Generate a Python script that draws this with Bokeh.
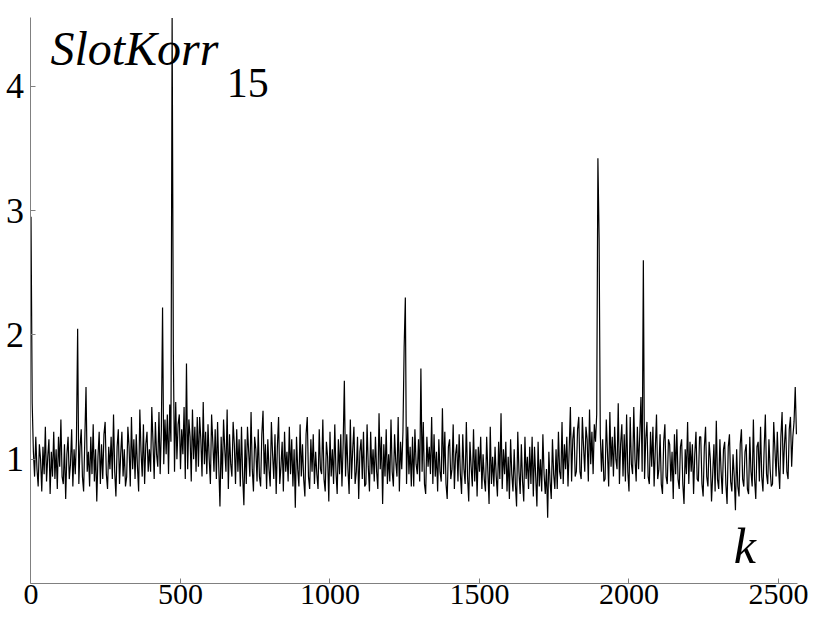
import numpy as np
from bokeh.plotting import figure
from bokeh.models import Label, FixedTicker, Range1d
from bokeh.embed import file_html
from bokeh.resources import INLINE

# SlotKorr_15 values, one every 4 samples of k
slotkorr = [
    2.95, 1.45, 1.06, 0.86, 1.18, 0.92, 0.78, 1.12, 1.00, 0.74,
    1.10, 0.88, 1.26, 0.82, 1.02, 1.16, 0.72, 1.06, 0.86, 1.22,
    0.84, 1.08, 0.76, 1.18, 0.94, 1.32, 0.86, 0.80, 1.12, 0.68,
    1.04, 1.18, 0.84, 0.96, 1.24, 0.78, 1.08, 0.88, 1.16, 2.05,
    0.80, 1.10, 1.24, 0.86, 0.74, 1.16, 1.58, 0.90, 1.06, 0.78,
    1.18, 0.88, 1.28, 0.82, 1.08, 0.66, 1.02, 1.22, 0.80, 1.12,
    0.84, 1.20, 1.30, 0.88, 0.76, 1.10, 0.92, 1.18, 0.84, 1.36,
    0.90, 0.70, 1.10, 1.24, 0.80, 1.04, 1.22, 0.86, 1.08, 0.78,
    0.86, 1.26, 1.10, 0.78, 1.34, 0.92, 1.16, 0.84, 1.20, 0.94,
    0.74, 1.40, 1.06, 0.86, 1.28, 0.80, 1.12, 1.22, 0.90, 1.08,
    0.90, 1.42, 1.14, 0.84, 1.30, 1.04, 0.94, 1.38, 0.88, 1.24,
    2.22, 0.96, 1.32, 1.04, 1.36, 0.88, 1.44, 1.14, 4.55, 1.88,
    0.90, 1.46, 1.00, 1.28, 1.36, 0.92, 1.24, 1.04, 1.42, 0.84,
    1.77, 0.92, 1.32, 1.18, 0.82, 1.40, 1.00, 1.26, 0.90, 1.34,
    0.94, 1.34, 1.16, 0.86, 1.46, 0.96, 1.22, 0.88, 1.28, 1.00,
    0.80, 1.36, 1.14, 0.90, 1.24, 0.84, 1.30, 0.94, 0.62, 1.18,
    0.84, 1.32, 1.08, 0.90, 1.40, 0.76, 1.20, 0.96, 0.86, 1.30,
    1.12, 0.80, 1.24, 0.90, 1.16, 0.78, 1.26, 0.86, 0.63, 1.16,
    0.80, 1.26, 1.06, 0.86, 1.38, 0.92, 0.74, 1.18, 1.08, 0.82,
    1.24, 0.86, 0.78, 1.20, 1.39, 0.88, 1.12, 0.76, 1.16, 0.92,
    0.78, 1.30, 1.04, 0.84, 1.20, 0.72, 1.10, 1.34, 0.80, 0.94,
    1.14, 0.74, 1.22, 0.90, 1.06, 0.82, 1.26, 0.88, 1.16, 0.78,
    1.08, 0.61, 1.18, 0.92, 0.78, 1.28, 0.86, 1.12, 0.84, 0.70,
    1.20, 1.34, 0.86, 0.76, 1.16, 0.90, 1.20, 0.80, 1.06, 0.88,
    0.76, 1.24, 0.92, 0.88, 1.32, 0.84, 0.74, 1.14, 1.02, 0.66,
    1.22, 0.86, 1.08, 0.80, 1.28, 0.90, 0.72, 1.16, 0.88, 1.20,
    0.78, 1.12, 1.63, 0.86, 1.20, 0.92, 0.72, 1.32, 0.84, 1.08,
    1.26, 0.80, 0.90, 1.18, 0.68, 1.06, 1.16, 0.84, 1.22, 0.78,
    0.80, 1.28, 0.94, 0.74, 1.22, 0.88, 1.08, 0.82, 1.18, 0.90,
    0.76, 1.37, 0.92, 1.18, 0.64, 1.12, 0.86, 1.24, 0.80, 1.04,
    0.82, 1.32, 0.90, 0.78, 1.20, 0.98, 0.86, 1.34, 0.74, 1.14,
    0.92, 1.22, 1.90, 2.30, 0.80, 1.26, 0.88, 1.10, 0.78, 1.18,
    0.78, 1.24, 0.96, 0.88, 1.16, 0.82, 1.73, 0.90, 1.30, 0.80,
    0.72, 1.18, 0.94, 1.10, 0.88, 1.34, 0.80, 1.20, 0.86, 1.06,
    0.74, 1.16, 0.90, 0.82, 1.41, 0.88, 1.22, 0.80, 0.68, 1.10,
    1.16, 0.84, 0.92, 1.28, 0.76, 1.04, 1.12, 0.82, 1.20, 0.88,
    0.72, 1.20, 0.92, 0.80, 1.30, 0.86, 0.66, 1.14, 0.94, 0.78,
    1.24, 0.82, 1.08, 0.70, 1.10, 0.90, 1.18, 0.76, 1.04, 0.84,
    0.74, 1.18, 0.90, 0.64, 1.26, 0.80, 1.02, 0.78, 1.10, 0.86,
    0.70, 1.14, 0.84, 1.37, 0.76, 1.08, 0.88, 1.14, 0.74, 1.02,
    0.68, 1.16, 0.88, 0.74, 1.08, 0.80, 0.62, 1.22, 0.90, 0.72,
    1.12, 0.82, 0.66, 1.18, 0.84, 1.02, 0.76, 1.10, 0.80, 1.18,
    0.70, 1.10, 0.86, 0.62, 1.14, 0.78, 1.00, 0.74, 1.20, 0.88,
    0.72, 0.92, 0.53, 1.06, 0.82, 0.68, 1.16, 0.88, 0.76, 1.08,
    0.76, 1.22, 0.90, 0.84, 1.30, 0.80, 1.12, 0.92, 1.18, 0.78,
    1.08, 1.42, 0.82, 1.16, 1.26, 0.86, 0.90, 1.24, 1.34, 0.90,
    0.84, 1.34, 1.10, 0.90, 1.26, 1.16, 0.82, 1.40, 0.96, 1.22,
    0.88, 1.28, 1.14, 1.36, 3.42, 2.78, 1.20, 0.90, 1.16, 0.82,
    0.84, 1.32, 1.06, 0.78, 1.38, 0.94, 1.18, 0.86, 1.26, 1.00,
    0.92, 1.45, 0.80, 1.12, 1.28, 0.86, 1.20, 0.82, 1.36, 0.90,
    0.74, 1.34, 0.96, 0.88, 1.42, 1.00, 0.82, 1.26, 0.92, 1.20,
    1.50, 0.90, 2.60, 0.84, 1.16, 1.30, 0.86, 0.80, 1.22, 0.94,
    1.26, 0.78, 1.08, 1.36, 0.84, 0.92, 1.20, 0.80, 0.72, 1.14,
    1.28, 0.86, 0.80, 1.16, 1.12, 0.82, 1.06, 0.68, 1.20, 0.88,
    1.24, 0.84, 0.76, 1.10, 1.16, 0.80, 0.64, 1.08, 0.88, 1.30,
    0.80, 1.14, 0.90, 1.12, 0.72, 1.04, 1.22, 0.84, 0.82, 1.18,
    1.18, 0.80, 0.70, 1.10, 1.26, 0.86, 0.78, 1.14, 1.00, 0.66,
    0.88, 1.12, 0.74, 1.31, 0.84, 0.76, 1.16, 0.90, 0.72, 1.08,
    1.14, 0.80, 0.64, 1.10, 1.20, 0.82, 0.74, 1.04, 0.86, 0.59,
    1.08, 0.78, 0.70, 1.12, 1.24, 0.84, 0.78, 1.06, 1.12, 0.76,
    0.72, 1.18, 0.90, 0.78, 1.32, 0.84, 0.68, 1.10, 1.14, 0.82,
    1.26, 0.86, 0.74, 1.08, 1.36, 0.88, 0.80, 1.16, 0.92, 0.78,
    0.80, 1.30, 1.08, 0.86, 1.22, 0.94, 0.76, 1.18, 1.38, 0.88,
    1.12, 1.28, 0.90, 0.84, 1.24, 1.34, 0.94, 1.18, 1.30, 1.58,
    1.20,
]
k = np.arange(len(slotkorr)) * 4

x_ticks = [0, 500, 1000, 1500, 2000, 2500]
y_ticks = [1, 2, 3, 4]
x_axis_end = 2564
y_axis_end = 4.553

p = figure(width=816, height=619, output_backend="svg", toolbar_location=None,
           x_range=Range1d(-102.0, 2627.1), y_range=Range1d(-0.2896, 4.690),
           min_border=0)
p.grid.visible = False
p.outline_line_color = None
p.background_fill_color = "white"
p.border_fill_color = "white"

p.line(k, slotkorr, line_color="black", line_width=1.2)

axis_grey = "#808080"
for ax in (p.xaxis[0], p.yaxis[0]):
    ax.axis_line_color = axis_grey
    ax.major_tick_line_color = axis_grey
    ax.major_tick_in = 5
    ax.major_tick_out = 0
    ax.minor_tick_line_color = None
    ax.major_label_text_font = "Liberation Serif"
    ax.major_label_text_color = "black"
    ax.fixed_location = 0

p.xaxis[0].ticker = FixedTicker(ticks=x_ticks)
p.yaxis[0].ticker = FixedTicker(ticks=y_ticks)
p.xaxis[0].bounds = (0, x_axis_end)
p.yaxis[0].bounds = (0, y_axis_end)
p.xaxis[0].major_label_text_font_size = "30px"
p.yaxis[0].major_label_text_font_size = "36px"
p.xaxis[0].major_label_standoff = 1
p.yaxis[0].major_label_standoff = 7

p.add_layout(Label(x=65, y=4.304, text="SlotKorr", text_font="Liberation Serif",
                   text_font_style="italic", text_font_size="48px",
                   text_baseline="alphabetic", text_color="black"))
p.add_layout(Label(x=655, y=4.023, text="15", text_font="Liberation Serif",
                   text_font_size="42px", text_baseline="alphabetic",
                   text_color="black"))
p.add_layout(Label(x=2350, y=0.298, text="k", text_font="Liberation Serif",
                   text_font_style="italic", text_font_size="50px",
                   text_baseline="alphabetic", text_color="black"))

open("out.html", "w").write(file_html(p, INLINE))
